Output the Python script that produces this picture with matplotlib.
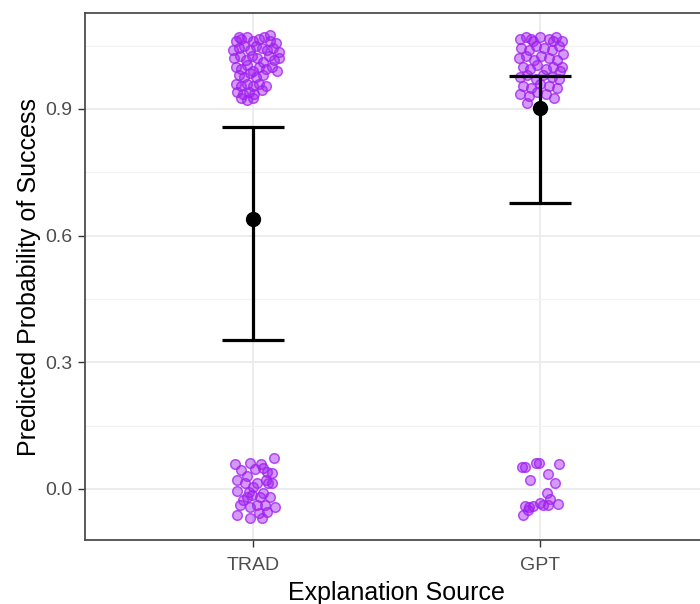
import matplotlib
matplotlib.use("Agg")
import matplotlib.pyplot as plt
import numpy as np

plt.rcParams['font.family'] = ['Liberation Sans', 'DejaVu Sans']

categories = ["TRAD", "GPT"]
means = [0.638, 0.902]
ci_low = [0.352, 0.677]
ci_high = [0.856, 0.977]

# jittered raw outcomes (x offset from category, y value)
trad_top = [(-0.06,1.06),(-0.04,1.065),(-0.02,1.07),(0.0,1.06),(0.02,1.065),(0.04,1.07),(0.06,1.06),(0.08,1.055),
    (-0.07,1.04),(-0.05,1.045),(-0.03,1.05),(-0.01,1.04),(0.01,1.05),(0.03,1.045),(0.05,1.04),(0.07,1.045),(0.09,1.035),
    (-0.065,1.02),(-0.045,1.025),(-0.025,1.015),(-0.005,1.025),(0.015,1.02),(0.035,1.01),(0.055,1.025),(0.075,1.015),(0.09,1.02),
    (-0.06,1.0),(-0.04,0.995),(-0.02,1.005),(0.0,0.99),(0.02,1.0),(0.045,0.995),(0.065,1.0),(0.085,0.99),
    (-0.05,0.98),(-0.03,0.975),(-0.01,0.985),(0.01,0.975),(0.035,0.98),
    (-0.06,0.96),(-0.04,0.955),(-0.02,0.96),(0.0,0.955),(0.02,0.96),(0.045,0.955),
    (-0.055,0.94),(-0.035,0.935),(-0.015,0.94),(0.005,0.935),(0.03,0.945),
    (-0.04,0.925),(-0.02,0.92),(0.0,0.925),(0.06,1.075),(-0.05,1.07)]
trad_bottom = [(-0.063,0.059),(-0.010,0.062),(0.028,0.059),(0.073,0.073),(0.007,0.047),(0.035,0.050),
    (0.049,0.040),(0.066,0.038),(0.052,0.014),(0.066,0.014),(-0.056,0.021),(-0.021,0.031),(-0.028,0.014),
    (-0.056,-0.005),(-0.014,-0.007),(-0.003,-0.014),(0.035,-0.009),(0.024,-0.019),(0.059,-0.019),
    (-0.045,-0.038),(-0.010,-0.043),(0.014,-0.038),(0.042,-0.038),(0.077,-0.043),(-0.056,-0.062),
    (-0.010,-0.069),(0.021,-0.057),(0.049,-0.054),(0.031,-0.069),(-0.035,-0.026),(0.0,0.005),
    (0.014,0.014),(-0.021,-0.019),(0.045,0.022),(-0.040,0.045)]
gpt_top = [(-0.07,1.065),(-0.05,1.07),(-0.025,1.06),(0.0,1.07),(0.03,1.065),(0.055,1.07),(0.075,1.06),
    (-0.065,1.045),(-0.04,1.04),(-0.015,1.05),(0.015,1.045),(0.04,1.04),(0.065,1.05),
    (-0.075,1.02),(-0.05,1.025),(-0.02,1.015),(0.005,1.025),(0.03,1.02),(0.06,1.015),(0.08,1.03),
    (-0.06,1.0),(-0.035,0.995),(-0.01,1.005),(0.02,0.995),(0.045,1.0),(0.07,0.99),
    (-0.07,0.975),(-0.045,0.98),(-0.015,0.97),(0.01,0.98),(0.04,0.975),(0.065,0.97),
    (-0.06,0.955),(-0.03,0.95),(0.0,0.96),(0.03,0.955),(0.06,0.95),
    (-0.07,0.935),(-0.04,0.93),(-0.01,0.94),(0.02,0.935),(0.05,0.925),
    (-0.045,0.915),(0.075,1.0),(-0.03,1.065),(0.045,1.06)]
gpt_bottom = [(-0.063,0.052),(-0.052,0.052),(-0.014,0.062),(-0.003,0.062),(0.066,0.059),(-0.035,0.021),
    (0.028,0.036),(0.052,0.014),(0.024,-0.009),(0.035,-0.024),(0.0,-0.033),(0.063,-0.036),
    (0.028,-0.038),(-0.052,-0.040),(-0.038,-0.043),(-0.024,-0.040),(-0.059,-0.062),(-0.042,-0.050),
    (0.010,-0.038)]

fig = plt.figure(figsize=(7.0, 6.04), dpi=100)
ax = fig.add_axes([85/700, 64/604, 623/700, 527/604])

for i, groups in enumerate([(trad_top, trad_bottom), (gpt_top, gpt_bottom)]):
    pts = groups[0] + groups[1]
    xs = [i + 1 + p[0] for p in pts]
    ys = [p[1] for p in pts]
    ax.scatter(xs, ys, s=48, facecolor=(0.627, 0.125, 0.941, 0.45),
               edgecolor=(0.627, 0.125, 0.941, 0.75), linewidth=1.1, zorder=3)

xpos = np.arange(1, len(categories) + 1)
ax.errorbar(xpos, means,
            yerr=[np.array(means) - np.array(ci_low), np.array(ci_high) - np.array(means)],
            fmt='o', color='black', markersize=10, elinewidth=2.3, capsize=22.5,
            capthick=2.3, zorder=4)

ax.set_xlim(0.415, 2.585)
ax.set_ylim(-0.121, 1.127)
ax.set_xticks(xpos)
ax.set_xticklabels(categories)
ax.set_yticks([0.0, 0.3, 0.6, 0.9])
ax.set_yticklabels(["0.0", "0.3", "0.6", "0.9"])
ax.set_yticks([0.15, 0.45, 0.75, 1.05], minor=True)

ax.grid(True, which='major', color='#EBEBEB', linewidth=1.3, zorder=0)
ax.grid(True, which='minor', axis='y', color='#F2F2F2', linewidth=0.8, zorder=0)
ax.set_axisbelow(True)
for s in ax.spines.values():
    s.set_color('#4D4D4D')
    s.set_linewidth(1.3)
ax.tick_params(axis='both', which='major', colors='#333333', labelcolor='#4D4D4D',
               labelsize=14, length=5, width=1.0)
ax.tick_params(axis='y', which='major', pad=4)
ax.tick_params(axis='x', which='major', pad=7)
ax.tick_params(axis='both', which='minor', length=0)

ax.set_xlabel("Explanation Source", fontsize=18, color='black', labelpad=5)
ax.set_ylabel("Predicted Probability of Success", fontsize=18, color='black', labelpad=3)

fig.savefig("out.png", dpi=100)
